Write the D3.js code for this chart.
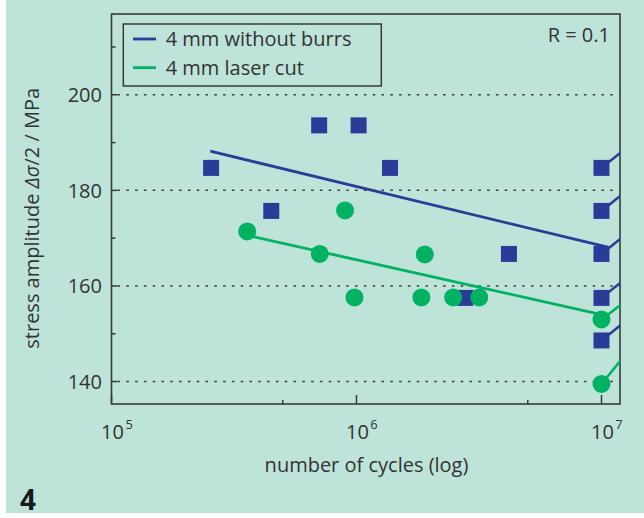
<!DOCTYPE html>
<html>
<head>
<meta charset="utf-8">
<script src="https://cdn.jsdelivr.net/npm/d3@7"></script>
<style>
  body { margin: 0; background: #fff; }
  svg { display: block; font-family: 'Open Sans', 'Noto Sans', sans-serif; }
</style>
</head>
<body>
<svg id="chart" width="644" height="518"></svg>
<script>
// 4 mm without burrs (squares)
const burrsN = [2.55e5, 4.49e5, 7.04e5, 1.02e6, 1.37e6, 2.78e6, 4.19e6, 1e7, 1e7, 1e7, 1e7, 1e7];
const burrsS = [184.7, 175.7, 193.6, 193.6, 184.7, 157.5, 166.7, 184.7, 175.7, 166.7, 157.5, 148.6];
const burrsRunout = [false, false, false, false, false, false, false, true, true, true, true, true];
const burrsFitN = [2.53e5, 1.06e7];
const burrsFitS = [188.2, 168.1];

// 4 mm laser cut (circles)
const laserN = [3.58e5, 7.08e5, 8.98e5, 9.81e5, 1.84e6, 1.9e6, 2.48e6, 3.17e6, 1e7, 1e7];
const laserS = [171.4, 166.7, 175.8, 157.6, 157.6, 166.6, 157.6, 157.6, 153.0, 139.5];
const laserRunout = [false, false, false, false, false, false, false, false, true, true];
const laserFitN = [3.58e5, 1e7];
const laserFitS = [170.6, 154.0];

const legendLabels = ['4 mm without burrs', '4 mm laser cut'];
const yGridTicks = [140, 160, 180, 200];
const yMinorTicks = [150, 170, 190, 210];
const xMajorTicks = [1e5, 1e6, 1e7];
const xMinorTicks = [5e5, 5e6];

// TODO colours picked by eye
const BLUE = '#2b3b98';
const GREEN = '#00b262';
const INK = '#333';
const AXIS = '#3a3a3a';
const FONT = 20;

const svg = d3.select('#chart');
svg.append('rect')
  .attr('x', 6).attr('y', 0)
  .attr('width', 638).attr('height', 513)
  .attr('fill', '#bee3d9');

const plot = { left: 111.5, right: 620, top: 14, bottom: 404 };

const x = d3.scaleLog()
  .domain([1e5, 1.19e7])
  .range([plot.left, plot.right]);
const y = d3.scaleLinear()
  .domain([135.3, 216.9])
  .range([plot.bottom, plot.top]);

svg.append('clipPath').attr('id', 'plotClip')
  .append('rect')
  .attr('x', plot.left).attr('y', plot.top)
  .attr('width', plot.right - plot.left)
  .attr('height', plot.bottom - plot.top);

// dotted grid lines at labelled stresses
svg.append('g')
  .selectAll('line')
  .data(yGridTicks)
  .join('line')
  .attr('x1', plot.left + 6).attr('x2', plot.right)
  .attr('y1', d => y(d)).attr('y2', d => y(d))
  .attr('stroke', AXIS)
  .attr('stroke-width', 1.5)
  .attr('stroke-dasharray', '2.5,6.3');

// y ticks (inside)
svg.append('g')
  .selectAll('line')
  .data(yGridTicks.map(v => ({ v, len: 6 })).concat(yMinorTicks.map(v => ({ v, len: 4 }))))
  .join('line')
  .attr('x1', plot.left).attr('x2', d => plot.left + d.len)
  .attr('y1', d => y(d.v)).attr('y2', d => y(d.v))
  .attr('stroke', AXIS)
  .attr('stroke-width', 1.5);

svg.append('g')
  .selectAll('text')
  .data(yGridTicks)
  .join('text')
  .attr('x', 102)
  .attr('y', d => y(d))
  .attr('dy', '0.36em')
  .attr('text-anchor', 'end')
  .attr('font-size', FONT)
  .attr('fill', INK)
  .text(d => d);

// x ticks (inside, from bottom)
svg.append('g')
  .selectAll('line')
  .data(xMajorTicks.map(v => ({ v, len: 9 })).concat(xMinorTicks.map(v => ({ v, len: 4 }))))
  .join('line')
  .attr('x1', d => x(d.v)).attr('x2', d => x(d.v))
  .attr('y1', plot.bottom).attr('y2', d => plot.bottom - d.len)
  .attr('stroke', AXIS)
  .attr('stroke-width', 1.5);

const xLabels = svg.append('g')
  .selectAll('text')
  .data(xMajorTicks)
  .join('text')
  .attr('x', d => x(d) - 10.5)
  .attr('y', 439)
  .attr('font-size', FONT)
  .attr('fill', INK);
xLabels.append('tspan').text('10');
xLabels.append('tspan')
  .attr('font-size', 13)
  .attr('dx', 1.5)
  .attr('dy', -10)
  .text(d => Math.round(Math.log10(d)));

// frame
svg.append('rect')
  .attr('x', plot.left).attr('y', plot.top)
  .attr('width', plot.right - plot.left)
  .attr('height', plot.bottom - plot.top)
  .attr('fill', 'none')
  .attr('stroke', AXIS)
  .attr('stroke-width', 1.6);

const marks = svg.append('g').attr('clip-path', 'url(#plotClip)');

const fitLine = d3.line().x(d => x(d[0])).y(d => y(d[1]));

marks.append('path')
  .datum(d3.zip(burrsFitN, burrsFitS))
  .attr('d', fitLine)
  .attr('fill', 'none')
  .attr('stroke', BLUE)
  .attr('stroke-width', 2.8);

marks.append('path')
  .datum(d3.zip(laserFitN, laserFitS))
  .attr('d', fitLine)
  .attr('fill', 'none')
  .attr('stroke', GREEN)
  .attr('stroke-width', 2.8);

// run-out arrows: short slanted strokes past the right edge
const runoutSlope = 0.8;
const drawRunouts = (ns, ss, flags, color, slopes) => {
  const pts = d3.zip(ns, ss, flags).filter(d => d[2]);
  marks.append('g')
    .selectAll('line')
    .data(pts)
    .join('line')
    .attr('x1', d => x(d[0])).attr('y1', d => y(d[1]))
    .attr('x2', d => x(d[0]) + 30)
    .attr('y2', (d, i) => y(d[1]) - 30 * (slopes[i] || runoutSlope))
    .attr('stroke', color)
    .attr('stroke-width', 2.5);
};
drawRunouts(burrsN, burrsS, burrsRunout, BLUE, []);
drawRunouts(laserN, laserS, laserRunout, GREEN, [0.76, 1.22]);

marks.append('g')
  .selectAll('rect')
  .data(d3.zip(burrsN, burrsS))
  .join('rect')
  .attr('x', d => x(d[0]) - 8)
  .attr('y', d => y(d[1]) - 8)
  .attr('width', 16).attr('height', 16)
  .attr('fill', BLUE);

marks.append('g')
  .selectAll('circle')
  .data(d3.zip(laserN, laserS))
  .join('circle')
  .attr('cx', d => x(d[0]))
  .attr('cy', d => y(d[1]))
  .attr('r', 9)
  .attr('fill', GREEN);

// legend
const legend = svg.append('g');
legend.append('rect')
  .attr('x', 123.3).attr('y', 24)
  .attr('width', 258).attr('height', 62)
  .attr('fill', 'none')
  .attr('stroke', AXIS)
  .attr('stroke-width', 1.5);
const legendRows = legend.selectAll('g')
  .data(d3.zip(legendLabels, [BLUE, GREEN]))
  .join('g')
  .attr('transform', (d, i) => `translate(0,${39 + i * 28.7})`);
legendRows.append('line')
  .attr('x1', 133).attr('x2', 156)
  .attr('stroke', d => d[1])
  .attr('stroke-width', 2.8);
legendRows.append('text')
  .attr('x', 165.7)
  .attr('dy', '0.36em')
  .attr('font-size', FONT)
  .attr('fill', INK)
  .text(d => d[0]);

svg.append('text')
  .attr('x', 610).attr('y', 41.5)
  .attr('text-anchor', 'end')
  .attr('font-size', FONT)
  .attr('fill', INK)
  .text('R = 0.1');

// axis titles
svg.append('text')
  .attr('x', 366.5).attr('y', 472)
  .attr('text-anchor', 'middle')
  .attr('font-size', FONT)
  .attr('fill', INK)
  .text('number of cycles (log)');

const yTitle = svg.append('text')
  .attr('transform', 'translate(39,218.3) rotate(-90)')
  .attr('text-anchor', 'middle')
  .attr('font-size', FONT)
  .attr('fill', INK);
yTitle.append('tspan').text('stress amplitude ');
yTitle.append('tspan').attr('font-style', 'italic').text('Δσ');
yTitle.append('tspan').text('/2 / MPa');

svg.append('text')
  .attr('x', 20).attr('y', 510)
  .attr('font-size', 28)
  .attr('font-weight', 'bold')
  .attr('fill', '#1a1a1a')
  .text('4');
</script>
</body>
</html>
